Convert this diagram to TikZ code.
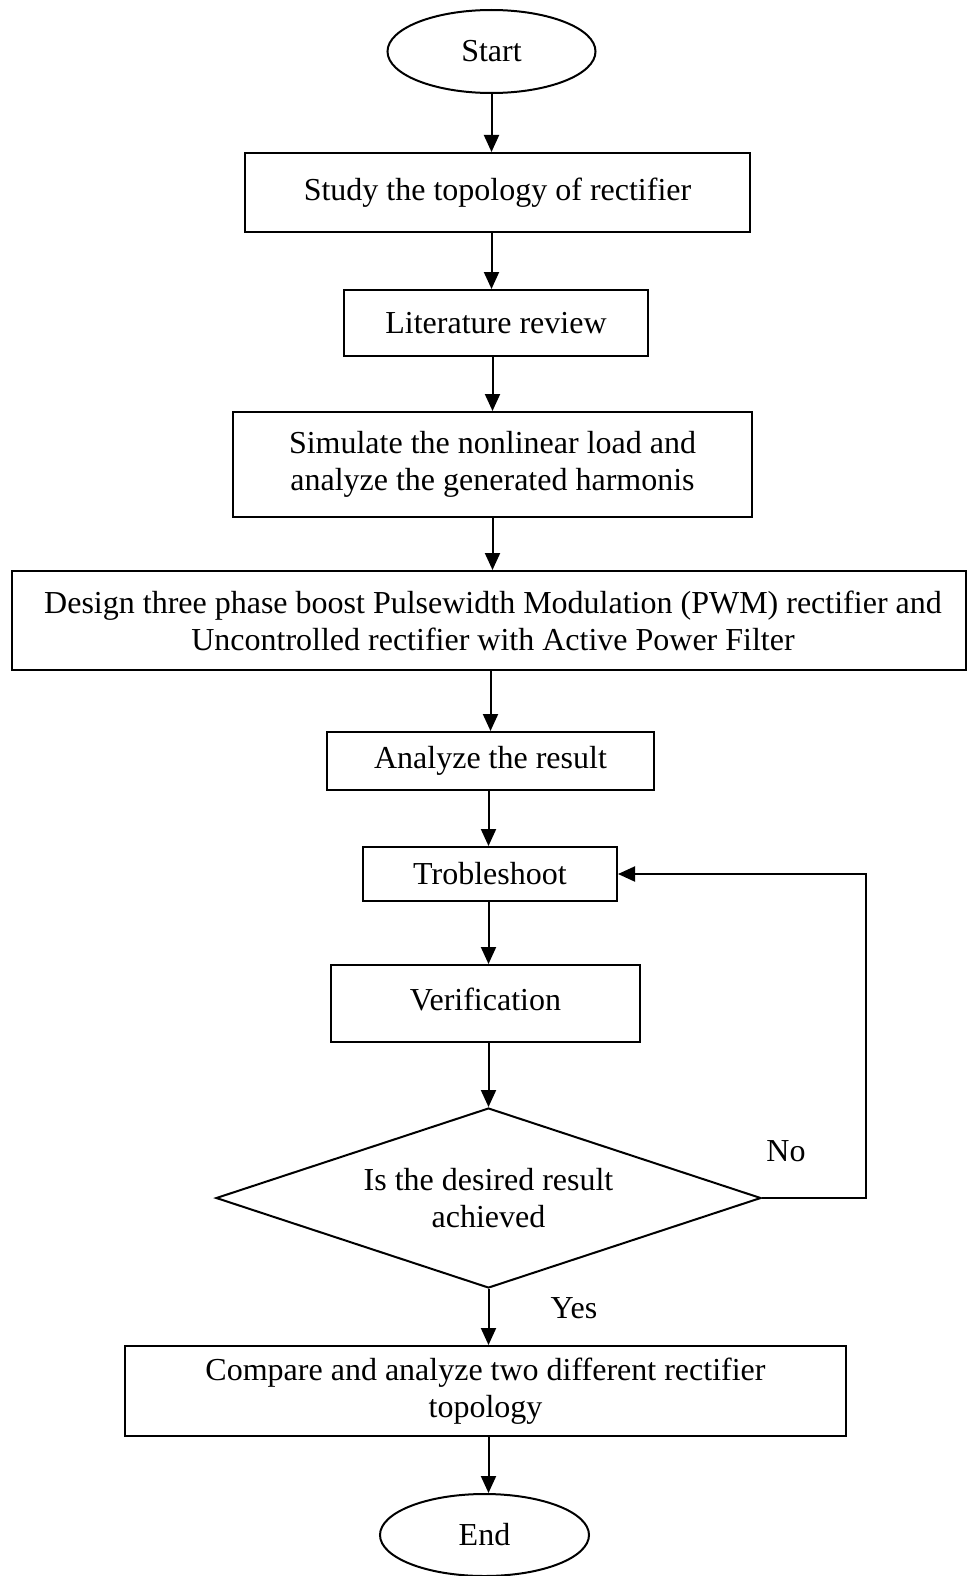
\documentclass[tikz,border=0pt]{standalone}
\usepackage{fontspec}
\setmainfont{Liberation Serif}
\usetikzlibrary{positioning, shapes.geometric, arrows.meta}

\tikzset{
  box/.style={draw, line width=2pt, align=center, inner sep=0pt,
    font=\fontsize{32}{37}\selectfont},
  term/.style={box, ellipse},
  decision/.style={box, diamond, aspect=3},
  flow/.style={-{Triangle[length=17pt,width=15pt]}, line width=2pt},
  lbl/.style={font=\fontsize{32}{37}\selectfont, inner sep=0pt}
}

\begin{document}
\begin{tikzpicture}[x=1pt,y=-1pt]
    \useasboundingbox (0,0) rectangle (968,1576);

    % start / end
    \node[term, minimum width=208, minimum height=83] (start) at (491.5,51.5) {\raisebox{2pt}{Start}};
    \node[term, minimum width=209, minimum height=82] (end) at (484.5,1535) {End};

    % process boxes
    \node[box, minimum width=505, minimum height=79] (study) at (497.5,192.5) {\raisebox{6pt}{Study the topology of rectifier}};
    \node[box, minimum width=304, minimum height=66] (review) at (496,323) {Literature review};
    \node[box, minimum width=519, minimum height=105] (simulate) at (492.5,464.5)
      {Simulate the nonlinear load and\\analyze the generated harmonis};
    \node[box, minimum width=954, minimum height=99] (design) at (489,620.5)
      {\hspace*{8pt}Design three phase boost Pulsewidth Modulation (PWM) rectifier and\\\hspace*{8pt}Uncontrolled rectifier with Active Power Filter};
    \node[box, minimum width=327, minimum height=58] (analyze) at (490.5,761) {\raisebox{-3pt}{Analyze the result}};
    \node[box, minimum width=254, minimum height=54] (trouble) at (490,874) {Trobleshoot};
    \node[box, minimum width=309, minimum height=77] (verify) at (485.5,1003.5) {\raisebox{8pt}{Verification}};

    % decision
    \node[decision, minimum width=545, minimum height=180] (check) at (488.5,1198)
      {Is the desired result\\achieved};

    \node[box, minimum width=721, minimum height=90] (compare) at (485.5,1391)
      {\raisebox{-6pt}{Compare and analyze two different rectifier}\\\raisebox{-6pt}{topology}};

    % labels
    \node[lbl] (no) at (786,1151) {No};
    \node[lbl] (yes) at (574,1308) {Yes};

    % arrows
    \draw[flow] (start.south) -- (start.south |- study.north);
    \draw[flow] (study.south -| start.south) -- (start.south |- review.north);
    \draw[flow] (review.south -| simulate.north) -- (simulate.north);
    \draw[flow] (simulate.south) -- (simulate.south |- design.north);
    \draw[flow] (design.south -| analyze.north) -- (analyze.north);
    \draw[flow] (analyze.south -| check.north) -- (check.north |- trouble.north);
    \draw[flow] (trouble.south -| check.north) -- (check.north |- verify.north);
    \draw[flow] (verify.south -| check.north) -- (check.north);
    \draw[flow] (check.south) -- (check.south |- compare.north);
    \draw[flow] (compare.south -| check.south) -- (check.south |- end.north);

    % loop back
    \draw[flow] (check.east) -- ++(104,0) |- (trouble.east);

\end{tikzpicture}
\end{document}
